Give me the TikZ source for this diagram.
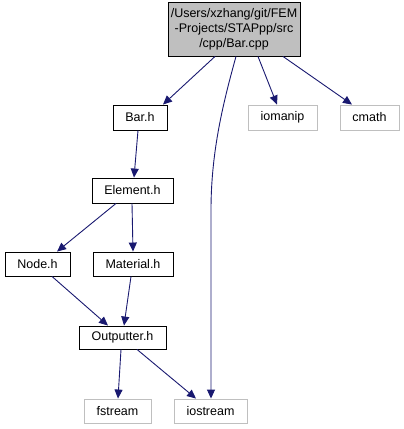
\documentclass[tikz,border=0pt]{standalone}
\usepackage{fontspec}
\setmainfont{Liberation Sans}
\usetikzlibrary{arrows.meta}
\definecolor{edgeblue}{HTML}{191970}
\definecolor{extgray}{HTML}{BFBFBF}
\begin{document}
\begin{tikzpicture}[x=1pt,y=-1pt,
  box/.style={draw=black,line width=0.9pt,fill=white,inner sep=0pt,font=\fontsize{12.5}{15}\selectfont},
  ext/.style={draw=extgray,line width=0.9pt,fill=white,inner sep=0pt,font=\fontsize{12.5}{15}\selectfont},
  edge/.style={draw=edgeblue,line width=0.9pt,-{Stealth[length=9pt,width=8pt,inset=0pt]}}]
\useasboundingbox (0,0) rectangle (404,429);
\node[box,fill=extgray,minimum width=132pt,minimum height=54pt,align=center] (cpp) at (234,29)
  {/Users/xzhang/git/FEM\\-Projects/STAPpp/src\\/cpp/Bar.cpp};
\node[box,minimum width=54pt,minimum height=25pt] (barh) at (140,117.5) {Bar.h};
\node[ext,minimum width=69pt,minimum height=25pt] (iomanip) at (282.5,117.5) {iomanip};
\node[ext,minimum width=59pt,minimum height=25pt] (cmath) at (369.5,117.5) {cmath};
\node[box,minimum width=81pt,minimum height=25pt] (elem) at (132.5,190.5) {Element.h};
\node[box,minimum width=65pt,minimum height=24pt] (nodeh) at (37.5,264) {Node.h};
\node[box,minimum width=80pt,minimum height=24pt] (mat) at (133,264) {Material.h};
\node[box,minimum width=87pt,minimum height=23pt] (out) at (122.5,337.5) {Outputter.h};
\node[ext,minimum width=67pt,minimum height=24pt] (fstream) at (117.5,411) {fstream};
\node[ext,minimum width=73pt,minimum height=24pt] (iostream) at (210.5,411) {iostream};

\draw[edge] (cpp.south -| 215,0) -- (barh.north -| 163,0);
\draw[edge] (cpp.south -| 236,0) .. controls (224,100) and (211,150) .. (211,210) -- (iostream.north -| 211,0);
\draw[edge] (cpp.south -| 258,0) -- (iomanip.north -| 277,0);
\draw[edge] (cpp.south -| 283,0) -- (cmath.north -| 352,0);
\draw[edge] (barh.south -| 138,0) -- (elem.north -| 134,0);
\draw[edge] (elem.south -| 116,0) -- (nodeh.north -| 57,0);
\draw[edge] (elem.south -| 132,0) -- (mat.north -| 133,0);
\draw[edge] (nodeh.south -| 52,0) -- (out.north -| 108,0);
\draw[edge] (mat.south -| 131,0) -- (out.north -| 124,0);
\draw[edge] (out.south -| 121,0) -- (fstream.north -| 118,0);
\draw[edge] (out.south -| 137,0) -- (iostream.north -| 196,0);
\end{tikzpicture}
\end{document}
